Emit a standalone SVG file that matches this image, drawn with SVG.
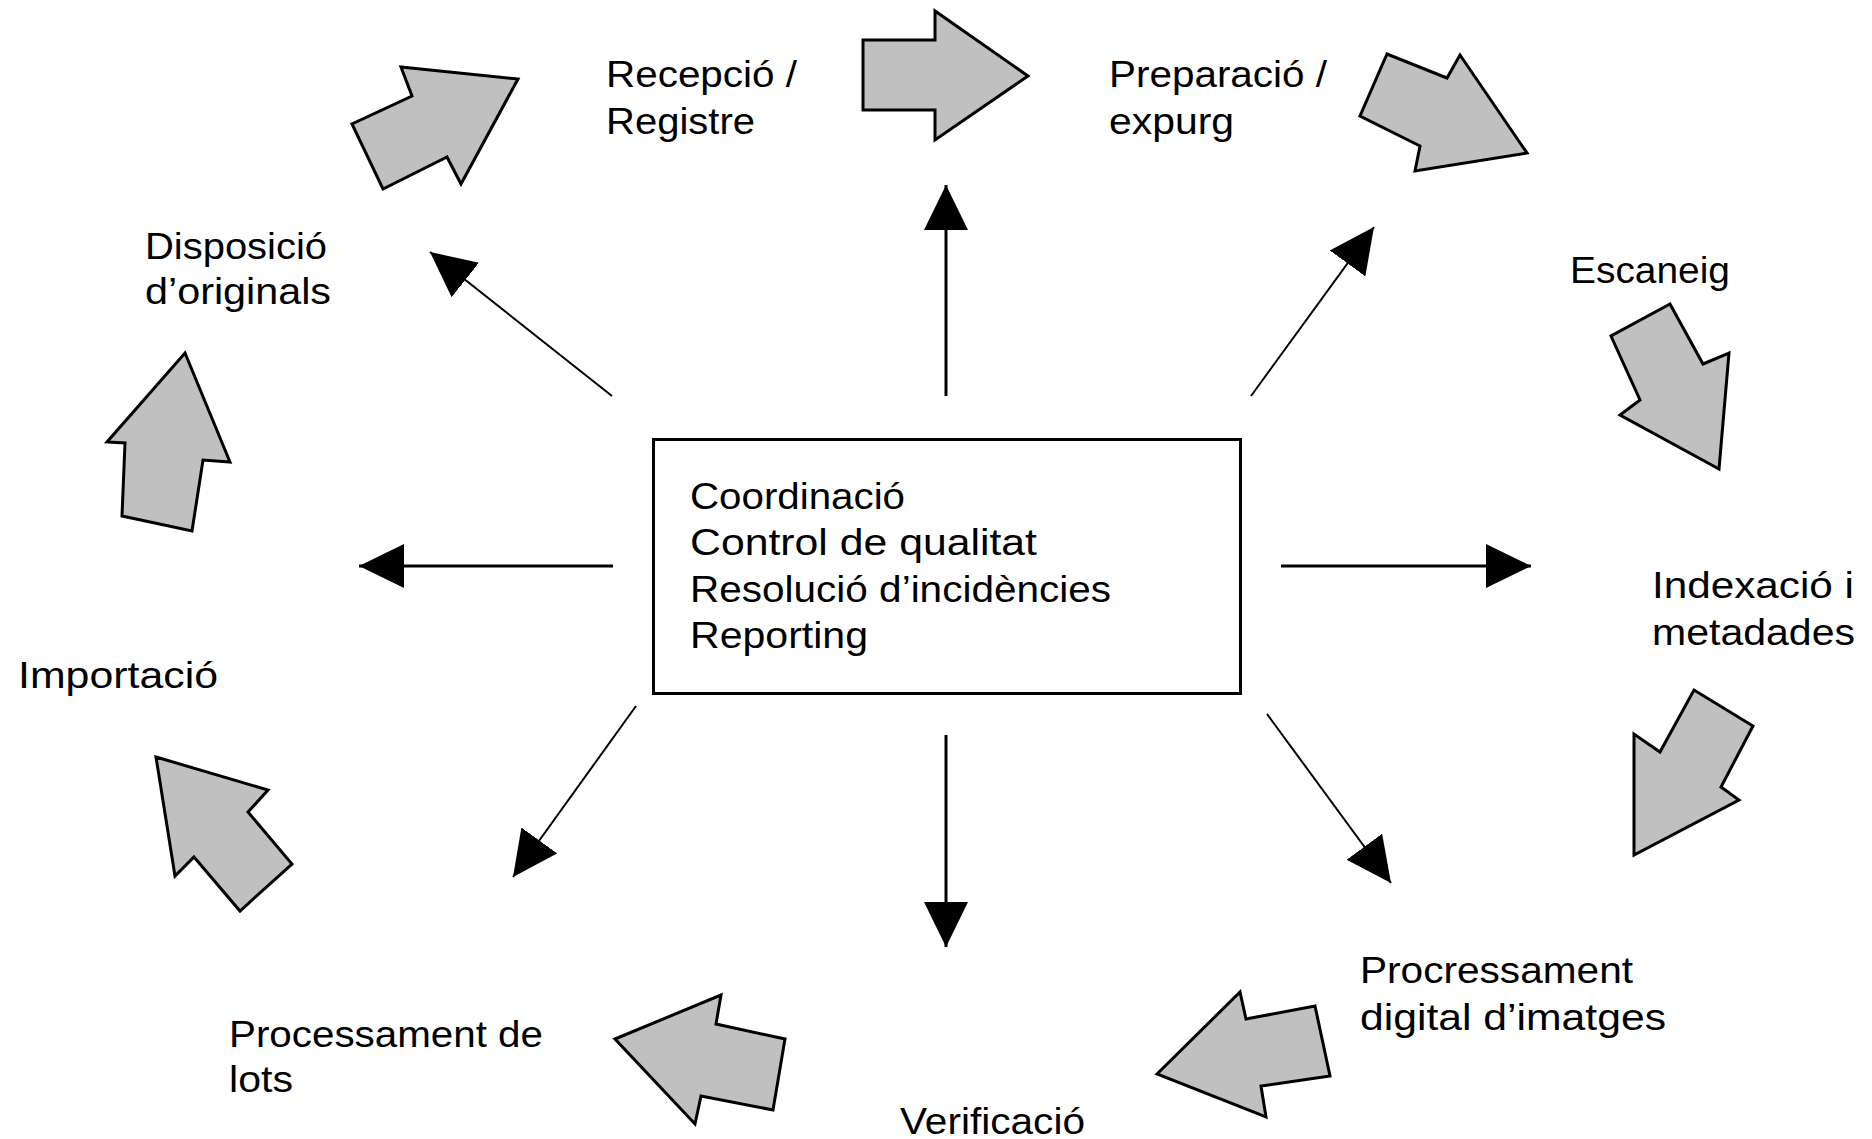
<svg xmlns="http://www.w3.org/2000/svg" width="1872" height="1139" viewBox="0 0 1872 1139">
<style>
  .lbl { font-family: "Liberation Sans", Arial, sans-serif; font-size: 36px; fill: #000; }
  .blk { fill: #C0C0C0; stroke: #000; stroke-width: 3; stroke-linejoin: miter; }
  .ln { stroke: #000; fill: none; }
  .ortho { stroke-width: 3; }
  .diag { stroke-width: 2; }
  .box { fill: #fff; stroke: #000; stroke-width: 3; }
</style>
<defs>
  <marker id="tri" markerUnits="userSpaceOnUse" markerWidth="46" markerHeight="46" viewBox="0 0 46 46" refX="45" refY="23" orient="auto">
    <path d="M0,1 L45,23 L0,45 Z" fill="#000"/>
  </marker>
</defs>
<rect width="1872" height="1139" fill="#fff"/>

<g id="connectors">
  <line class="ln ortho" x1="946" y1="396" x2="946" y2="185" marker-end="url(#tri)"/>
  <line class="ln ortho" x1="946" y1="735" x2="946" y2="947" marker-end="url(#tri)"/>
  <line class="ln ortho" x1="613" y1="566" x2="359" y2="566" marker-end="url(#tri)"/>
  <line class="ln ortho" x1="1281" y1="566" x2="1531" y2="566" marker-end="url(#tri)"/>
  <line class="ln diag" x1="612" y1="396" x2="430" y2="252" marker-end="url(#tri)"/>
  <line class="ln diag" x1="1251" y1="396" x2="1374" y2="227" marker-end="url(#tri)"/>
  <line class="ln diag" x1="636" y1="706" x2="513" y2="877" marker-end="url(#tri)"/>
  <line class="ln diag" x1="1267" y1="714" x2="1391" y2="883" marker-end="url(#tri)"/>
</g>

<g id="flow-arrows">
  <polygon id="arrow-disposicio-recepcio" class="blk" points="518,79 461,184 447,157 383,189 352,124 412,96 401,67"/>
  <polygon id="arrow-recepcio-preparacio" class="blk" points="863,40 935,40 935,11 1028,76 935,140 935,110 863,110"/>
  <polygon id="arrow-preparacio-escaneig" class="blk" points="1527,153 1415,171 1420,146 1360,116 1387,54 1447,78 1460,55"/>
  <polygon id="arrow-escaneig-indexacio" class="blk" points="1719,469 1620,415 1640,400 1611,336 1670,304 1703,364 1729,353"/>
  <polygon id="arrow-indexacio-processament" class="blk" points="1634,855 1634,734 1660,752 1694,690 1753,726 1721,787 1739,800"/>
  <polygon id="arrow-processament-verificacio" class="blk" points="1157,1074 1240,992 1246,1019 1315,1006 1330,1076 1261,1086 1266,1117"/>
  <polygon id="arrow-verificacio-lots" class="blk" points="615,1039 721,995 716,1024 785,1039 773,1110 701,1096 695,1124"/>
  <polygon id="arrow-lots-importacio" class="blk" points="156,757 268,790 248,812 292,864 240,911 194,857 175,876"/>
  <polygon id="arrow-importacio-disposicio" class="blk" points="185,353 230,462 203,460 192,531 122,516 125,443 107,442"/>
</g>

<g id="center">
  <rect class="box" x="653.5" y="439.5" width="587" height="254"/>
  <text class="lbl" x="690" y="509" textLength="215" lengthAdjust="spacingAndGlyphs">Coordinació</text>
  <text class="lbl" x="690" y="555" textLength="347" lengthAdjust="spacingAndGlyphs">Control de qualitat</text>
  <text class="lbl" x="690" y="602" textLength="421" lengthAdjust="spacingAndGlyphs">Resolució d’incidències</text>
  <text class="lbl" x="690" y="648" textLength="178" lengthAdjust="spacingAndGlyphs">Reporting</text>
</g>

<g id="recepcio">
  <text class="lbl" x="606" y="87" textLength="191" lengthAdjust="spacingAndGlyphs">Recepció /</text>
  <text class="lbl" x="606" y="134" textLength="149" lengthAdjust="spacingAndGlyphs">Registre</text>
</g>
<g id="preparacio">
  <text class="lbl" x="1109" y="87" textLength="218" lengthAdjust="spacingAndGlyphs">Preparació /</text>
  <text class="lbl" x="1109" y="134" textLength="125" lengthAdjust="spacingAndGlyphs">expurg</text>
</g>
<g id="escaneig">
  <text class="lbl" x="1570" y="283" textLength="160" lengthAdjust="spacingAndGlyphs">Escaneig</text>
</g>
<g id="indexacio">
  <text class="lbl" x="1652" y="598" textLength="202" lengthAdjust="spacingAndGlyphs">Indexació i</text>
  <text class="lbl" x="1652" y="645" textLength="203" lengthAdjust="spacingAndGlyphs">metadades</text>
</g>
<g id="procressament">
  <text class="lbl" x="1360" y="983" textLength="273" lengthAdjust="spacingAndGlyphs">Procressament</text>
  <text class="lbl" x="1360" y="1030" textLength="306" lengthAdjust="spacingAndGlyphs">digital d’imatges</text>
</g>
<g id="verificacio">
  <text class="lbl" x="900" y="1134" textLength="185" lengthAdjust="spacingAndGlyphs">Verificació</text>
</g>
<g id="processament-lots">
  <text class="lbl" x="229" y="1047" textLength="314" lengthAdjust="spacingAndGlyphs">Processament de</text>
  <text class="lbl" x="229" y="1092" textLength="64" lengthAdjust="spacingAndGlyphs">lots</text>
</g>
<g id="importacio">
  <text class="lbl" x="18" y="688" textLength="200" lengthAdjust="spacingAndGlyphs">Importació</text>
</g>
<g id="disposicio">
  <text class="lbl" x="145" y="259" textLength="182" lengthAdjust="spacingAndGlyphs">Disposició</text>
  <text class="lbl" x="145" y="304" textLength="186" lengthAdjust="spacingAndGlyphs">d’originals</text>
</g>
</svg>
